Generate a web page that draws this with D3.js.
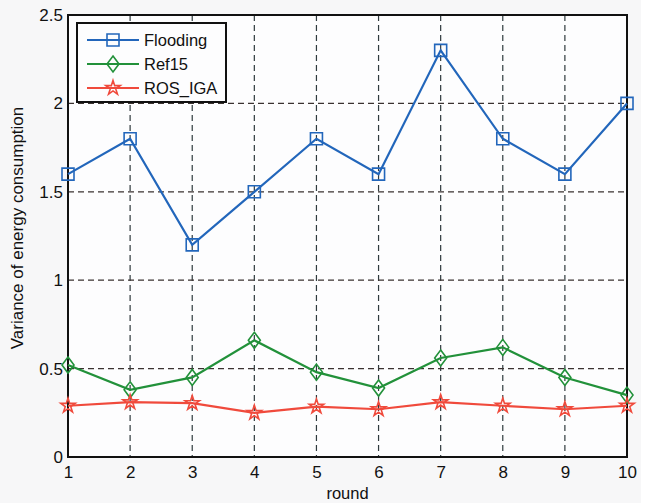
<!DOCTYPE html>
<html>
<head>
<meta charset="utf-8">
<script src="https://cdn.jsdelivr.net/npm/d3@7"></script>
<style>
  body { margin: 0; background: #ffffff; }
  svg { font-family: "Liberation Sans", Arial, sans-serif; }
</style>
</head>
<body>
<div id="chart"></div>
<script>
// data
var rounds = [1, 2, 3, 4, 5, 6, 7, 8, 9, 10];
var flooding = [1.6, 1.8, 1.2, 1.5, 1.8, 1.6, 2.3, 1.8, 1.6, 2.0];
var ref15 = [0.52, 0.38, 0.45, 0.66, 0.48, 0.39, 0.56, 0.62, 0.45, 0.35];
var rosIga = [0.29, 0.31, 0.305, 0.25, 0.285, 0.27, 0.31, 0.29, 0.27, 0.29];
var yTicks = [0, 0.5, 1, 1.5, 2, 2.5];
var seriesNames = ["Flooding", "Ref15", "ROS_IGA"];

var W = 651, H = 503;
var margin = {top: 15, right: 24, bottom: 46, left: 68},
    width = W - margin.left - margin.right,
    height = H - margin.top - margin.bottom;

var svg = d3.select("#chart")
  .append("svg")
    .attr("width", W)
    .attr("height", H);

// figure background (slightly grey like the scan)
svg.append("rect")
  .attr("x", 0).attr("y", 0)
  .attr("width", 641).attr("height", H)
  .attr("fill", "#f7f7f8");

var g = svg.append("g")
  .attr("transform", "translate(" + margin.left + "," + margin.top + ")");

var x = d3.scaleLinear().domain([1, 10]).range([0, width]);
var y = d3.scaleLinear().domain([0, 2.5]).range([height, 0]);

g.append("rect")
  .attr("width", width).attr("height", height)
  .attr("fill", "#fdfdfe");

// grid
g.selectAll(".vgrid")
  .data(rounds.slice(1, -1))
  .enter().append("line")
    .attr("x1", function(d) { return x(d); })
    .attr("x2", function(d) { return x(d); })
    .attr("y1", 0).attr("y2", height)
    .attr("stroke", "#2f3a3e")
    .attr("stroke-width", 1.2)
    .attr("stroke-dasharray", "6,4");

g.selectAll(".hgrid")
  .data(yTicks.slice(1, -1))
  .enter().append("line")
    .attr("x1", 0).attr("x2", width)
    .attr("y1", function(d) { return y(d); })
    .attr("y2", function(d) { return y(d); })
    .attr("stroke", "#3a3230")
    .attr("stroke-width", 1.2)
    .attr("stroke-dasharray", "6,4");

// axes
var xAxis = g.append("g")
  .attr("transform", "translate(0," + height + ")")
  .call(d3.axisBottom(x).tickValues(rounds).tickFormat(d3.format("d")).tickSize(0).tickPadding(9));
var yAxis = g.append("g")
  .call(d3.axisLeft(y).tickValues(yTicks).tickFormat(function(d) { return d; }).tickSize(0).tickPadding(5));
[xAxis, yAxis].forEach(function(a) {
  a.select(".domain").remove();
  a.selectAll("text").attr("font-size", 17).attr("fill", "#111")
    .attr("font-family", "Liberation Sans, Arial, sans-serif");
});

// frame
g.append("rect")
  .attr("width", width).attr("height", height)
  .attr("fill", "none")
  .attr("stroke", "#111")
  .attr("stroke-width", 2);

// lines
var line = d3.line()
  .x(function(d, i) { return x(rounds[i]); })
  .y(function(d) { return y(d); });

var series = [
  {name: seriesNames[0], values: flooding, color: "#2266bb", marker: "square"},
  {name: seriesNames[1], values: ref15, color: "#22913a", marker: "diamond"},
  {name: seriesNames[2], values: rosIga, color: "#f04a3c", marker: "star"}
];

function markerPath(type) {
  if (type == "square") return "M-6,-6H6V6H-6Z";
  if (type == "diamond") return "M0,-8L6,0L0,8L-6,0Z";
  return d3.symbol().type(d3.symbolStar).size(65)();
}

series.forEach(function(s) {
  g.append("path")
    .datum(s.values)
    .attr("fill", "none")
    .attr("stroke", s.color)
    .attr("stroke-width", 2.2)
    .attr("d", line);

  g.selectAll(".m-" + s.marker)
    .data(s.values)
    .enter().append("path")
      .attr("transform", function(d, i) { return "translate(" + x(rounds[i]) + "," + y(d) + ")"; })
      .attr("d", markerPath(s.marker))
      .attr("fill", "none")
      .attr("stroke", s.color)
      .attr("stroke-width", 1.6);
});

// legend
var lg = g.append("g").attr("transform", "translate(9,8)");
lg.append("rect")
  .attr("width", 149).attr("height", 79)
  .attr("fill", "#fdfdfe")
  .attr("stroke", "#111")
  .attr("stroke-width", 2);

series.forEach(function(s, i) {
  var yy = 17 + i * 24;
  lg.append("line")
    .attr("x1", 10).attr("x2", 62)
    .attr("y1", yy).attr("y2", yy)
    .attr("stroke", s.color).attr("stroke-width", 2);
  lg.append("path")
    .attr("transform", "translate(36," + yy + ")")
    .attr("d", markerPath(s.marker))
    .attr("fill", "none")
    .attr("stroke", s.color)
    .attr("stroke-width", 1.6);
  lg.append("text")
    .attr("x", 67).attr("y", yy + 6)
    .attr("font-size", 16.5)
    .attr("fill", "#111")
    .text(s.name);
});

// axis labels
svg.append("text")
  .attr("x", margin.left + width / 2)
  .attr("y", 499)
  .attr("text-anchor", "middle")
  .attr("font-size", 16.5)
  .attr("fill", "#111")
  .text("round");

svg.append("text")
  .attr("transform", "translate(23,228) rotate(-90)")
  .attr("text-anchor", "middle")
  .attr("font-size", 17)
  .attr("fill", "#111")
  .text("Variance of energy consumption");
</script>
</body>
</html>
